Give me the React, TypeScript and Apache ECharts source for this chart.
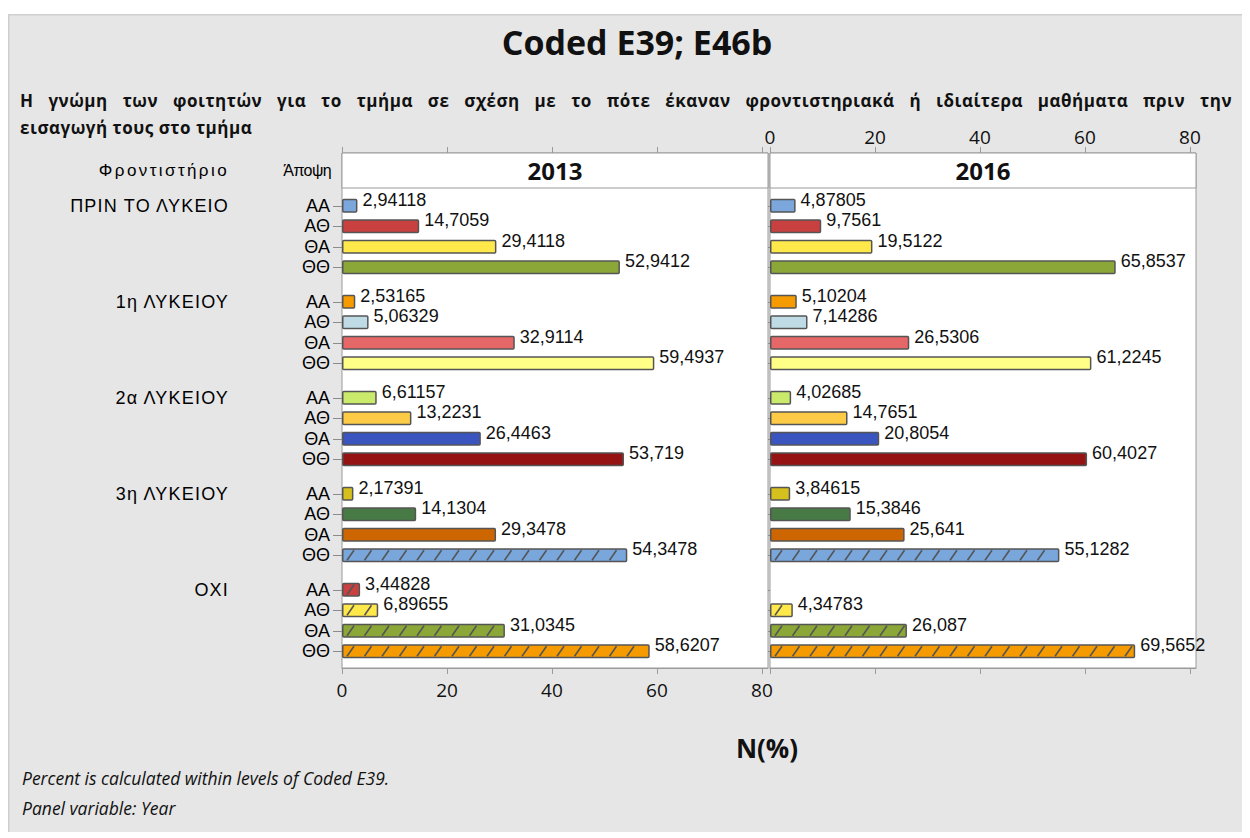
import React, { useEffect, useMemo, useRef } from 'react';
import * as echarts from 'echarts';

const TITLE = 'Coded E39; E46b';
const SUBTITLE_LINES = [
  'Η γνώμη των φοιτητών για το τμήμα σε σχέση με το πότε έκαναν φροντιστηριακά ή ιδιαίτερα μαθήματα πριν την',
  'εισαγωγή τους στο τμήμα',
];
const YEARS = ['2013', '2016'];
const ROW_HEADERS = ['Φροντιστήριο', 'Άποψη'];
const GROUPS = ['ΠΡΙΝ ΤΟ ΛΥΚΕΙΟ', '1η ΛΥΚΕΙΟΥ', '2α ΛΥΚΕΙΟΥ', '3η ΛΥΚΕΙΟΥ', 'ΟΧΙ'];
const OPINIONS = ['ΑΑ', 'ΑΘ', 'ΘΑ', 'ΘΘ'];

const VALUES_2013 = [
  [2.94118, 14.7059, 29.4118, 52.9412],
  [2.53165, 5.06329, 32.9114, 59.4937],
  [6.61157, 13.2231, 26.4463, 53.719],
  [2.17391, 14.1304, 29.3478, 54.3478],
  [3.44828, 6.89655, 31.0345, 58.6207],
];
const VALUES_2016 = [
  [4.87805, 9.7561, 19.5122, 65.8537],
  [5.10204, 7.14286, 26.5306, 61.2245],
  [4.02685, 14.7651, 20.8054, 60.4027],
  [3.84615, 15.3846, 25.641, 55.1282],
  [null, 4.34783, 26.087, 69.5652],
];
const GROUP_COLORS = [
  ['#7ba7dc', '#c94040', '#ffe94a', '#8aa737'],
  ['#f59b00', '#bfdce6', '#e56767', '#ffff88'],
  ['#c9ea6a', '#fdcb45', '#3a55c0', '#951313'],
  ['#d5c01d', '#477a45', '#cd6601', '#79a6db'],
  ['#c94040', '#ffe94a', '#8aa737', '#f59b00'],
];
const HATCHED = [
  [false, false, false, false],
  [false, false, false, false],
  [false, false, false, false],
  [false, false, false, true],
  [true, true, true, true],
];
const X_TICKS = [0, 20, 40, 60, 80];
const X_TITLE = 'N(%)';
const FOOTNOTES = ['Percent is calculated within levels of Coded E39.', 'Panel variable: Year'];

// layout (page coordinates, converted by OX / OY)
const OX = 8;
const OY = 14;
const PANEL_LEFT = [342, 770];
const PANEL_WIDTH = 426;
const FRAME_TOP = 153;
const FRAME_BOTTOM = 668;
const STRIP_H = 35;
const GROUP_TOP0 = 195.5;
const GROUP_STEP = 96;
const GROUP_H = 82;
const X_MAX = 81.15;
const SUB_LINE1_WIDTH = 1212;
const SUB_LETTER_SP = 0.5;

const SEGOE = "'Open Sans', 'Noto Sans', sans-serif";
const ARIAL = "'Liberation Sans', Arial, sans-serif";

const fmt = (v: number) => String(v).replace('.', ',');

function buildOption() {
  const grids: any[] = [];
  const xAxes: any[] = [];
  const yAxes: any[] = [];
  const series: any[] = [];

  for (let p = 0; p < 2; p++) {
    grids.push({
      left: PANEL_LEFT[p] - OX,
      top: FRAME_TOP - OY,
      width: PANEL_WIDTH,
      height: FRAME_BOTTOM - FRAME_TOP,
      show: true,
      backgroundColor: '#ffffff',
      borderColor: '#9a9a9a',
      borderWidth: 1,
    });
    yAxes.push({ type: 'value', gridIndex: p, show: false, min: 0, max: 1 });
  }
  const frameAxes = [
    { grid: 0, pos: 'bottom', labels: true },
    { grid: 0, pos: 'top', labels: false },
    { grid: 1, pos: 'bottom', labels: false },
    { grid: 1, pos: 'top', labels: true },
  ];
  frameAxes.forEach((a) => {
    xAxes.push({
      type: 'value',
      gridIndex: a.grid,
      position: a.pos,
      min: 0,
      max: X_MAX,
      interval: 20,
      axisLine: { show: true, lineStyle: { color: '#9a9a9a', width: 1 } },
      axisTick: { show: true, length: 6, customValues: X_TICKS, lineStyle: { color: '#9a9a9a' } },
      axisLabel: {
        show: a.labels,
        customValues: X_TICKS,
        fontSize: 19,
        fontFamily: SEGOE,
        color: '#111',
        margin: a.pos === 'top' ? 7 : 12,
      },
      splitLine: { show: false },
    });
  });

  for (let p = 0; p < 2; p++) {
    const vals = p === 0 ? VALUES_2013 : VALUES_2016;
    for (let g = 0; g < GROUPS.length; g++) {
      const gi = grids.length;
      grids.push({
        left: PANEL_LEFT[p] - OX,
        top: GROUP_TOP0 + g * GROUP_STEP - OY,
        width: PANEL_WIDTH,
        height: GROUP_H,
      });
      const xi = xAxes.length;
      xAxes.push({ type: 'value', gridIndex: gi, min: 0, max: X_MAX, show: false });
      const yi = yAxes.length;
      yAxes.push({
        type: 'category',
        gridIndex: gi,
        data: OPINIONS,
        inverse: true,
        axisLine: { show: false },
        axisTick: {
          show: true,
          length: p === 0 ? 9 : 2,
          alignWithLabel: true,
          interval: 0,
          lineStyle: { color: '#8c8c8c' },
        },
        axisLabel: {
          show: p === 0,
          interval: 0,
          fontSize: 18,
          fontFamily: ARIAL,
          color: '#000',
          margin: 12,
        },
      });
      const row = vals[g];
      series.push({
        type: 'bar',
        xAxisIndex: xi,
        yAxisIndex: yi,
        barWidth: 14,
        silent: true,
        itemStyle: { borderColor: '#555555', borderWidth: 1.5, borderRadius: 1 },
        label: {
          show: true,
          position: 'right',
          distance: 5,
          offset: [0, -6],
          fontSize: 18,
          lineHeight: 18,
          fontFamily: ARIAL,
          color: '#111',
          formatter: (prm: any) => fmt(prm.value),
        },
        data: row.map((v, i) =>
          v == null ? '-' : { value: v, itemStyle: { color: GROUP_COLORS[g][i] } }
        ),
      });
      const hatchData = row
        .map((v, i) => (HATCHED[g][i] && v != null ? [v, i] : null))
        .filter((d) => d !== null);
      if (hatchData.length) {
        series.push({
          type: 'custom',
          xAxisIndex: xi,
          yAxisIndex: yi,
          silent: true,
          z: 5,
          encode: { x: 0, y: 1 },
          data: hatchData,
          renderItem: (_params: any, api: any) => {
            const v = api.value(0);
            const c = api.value(1);
            const p0 = api.coord([0, c]);
            const p1 = api.coord([v, c]);
            const children: any[] = [];
            for (let x = p0[0] + 5; x + 7 <= p1[0] - 1; x += 17.5) {
              children.push({
                type: 'line',
                shape: { x1: x, y1: p0[1] + 5, x2: x + 7, y2: p0[1] - 5 },
                style: { stroke: '#555555', lineWidth: 1.6 },
              });
            }
            return { type: 'group', children };
          },
        });
      }
    }
  }

  const graphic: any[] = [];
  graphic.push({ type: 'line', shape: { x1: 0.5, y1: 0, x2: 0.5, y2: 830 }, style: { stroke: '#cfcfcf', lineWidth: 2 } });
  graphic.push({ type: 'line', shape: { x1: 0, y1: 0.5, x2: 1242, y2: 0.5 }, style: { stroke: '#cfcfcf', lineWidth: 2 } });
  graphic.push({
    type: 'text',
    x: 637 - OX,
    y: 42 - OY,
    style: { text: TITLE, fontSize: 34, fontWeight: 'bold', fontFamily: SEGOE, fill: '#111', align: 'center', verticalAlign: 'middle' },
  });
  SUBTITLE_LINES.forEach((t, i) => {
    graphic.push({
      type: 'text',
      x: 20 - OX,
      y: 100 + i * 27 - OY,
      style: { text: t, fontSize: i === 0 ? 17.01 : 17.02, fontWeight: 'bold', fontFamily: SEGOE, fill: '#111', align: 'left', verticalAlign: 'middle' },
    });
  });
  graphic.push({
    type: 'text', x: 229 - OX, y: 170 - OY,
    style: { text: ROW_HEADERS[0], fontSize: 17.03, fontFamily: ARIAL, fill: '#000', align: 'right', verticalAlign: 'middle' },
  });
  graphic.push({
    type: 'text', x: 331 - OX, y: 170 - OY,
    style: { text: ROW_HEADERS[1], fontSize: 16.01, fontFamily: ARIAL, fill: '#000', align: 'right', verticalAlign: 'middle' },
  });
  GROUPS.forEach((gname, g) => {
    graphic.push({
      type: 'text',
      x: 229 - OX,
      y: GROUP_TOP0 + g * GROUP_STEP + GROUP_H / 8 - OY,
      style: { text: gname, fontSize: 18.01, fontFamily: ARIAL, fill: '#000', align: 'right', verticalAlign: 'middle' },
    });
  });
  YEARS.forEach((yr, p) => {
    graphic.push({
      type: 'rect',
      z: 10,
      shape: { x: PANEL_LEFT[p] - OX, y: FRAME_TOP - OY, width: PANEL_WIDTH, height: STRIP_H },
      style: { fill: '#ffffff', stroke: '#9a9a9a', lineWidth: 1 },
    });
    graphic.push({
      type: 'text',
      z: 11,
      x: PANEL_LEFT[p] + PANEL_WIDTH / 2 - OX,
      y: FRAME_TOP + STRIP_H / 2 - OY,
      style: { text: yr, fontSize: 24, fontWeight: 'bold', fontFamily: SEGOE, fill: '#111', align: 'center', verticalAlign: 'middle' },
    });
  });
  graphic.push({
    type: 'text', x: 767 - OX, y: 748 - OY,
    style: { text: X_TITLE, fontSize: 26, fontWeight: 'bold', fontFamily: SEGOE, fill: '#111', align: 'center', verticalAlign: 'middle' },
  });
  FOOTNOTES.forEach((t, i) => {
    graphic.push({
      type: 'text', x: 22 - OX, y: 778 + i * 30 - OY,
      style: { text: t, fontSize: 17.5, fontStyle: 'italic', fontFamily: SEGOE, fill: '#111', align: 'left', verticalAlign: 'middle' },
    });
  });

  return {
    animation: false,
    backgroundColor: '#e6e6e6',
    grid: grids,
    xAxis: xAxes,
    yAxis: yAxes,
    series,
    graphic: { elements: graphic },
  };
}

function buildCss() {
  let wordSp = 4;
  try {
    const ctx = document.createElement('canvas').getContext('2d');
    if (ctx) {
      ctx.font = "bold 17px 'Open Sans'";
      const line = SUBTITLE_LINES[0];
      const w = ctx.measureText(line).width + SUB_LETTER_SP * line.length;
      const nSp = (line.match(/ /g) || []).length;
      wordSp = Math.max(0, (SUB_LINE1_WIDTH - w) / nSp);
    }
  } catch (e) {
    // ignore
  }
  return [
    `#root svg text[style*="17.01px"]{letter-spacing:${SUB_LETTER_SP}px;word-spacing:${wordSp.toFixed(2)}px;}`,
    `#root svg text[style*="17.02px"]{letter-spacing:${SUB_LETTER_SP}px;}`,
    `#root svg text[style*="17.03px"]{letter-spacing:2.4px;}`,
    `#root svg text[style*="16.01px"]{letter-spacing:-0.6px;}`,
    `#root svg text[style*="18.01px"]{letter-spacing:1.2px;}`,
  ].join('\n');
}

export default function App() {
  const ref = useRef<HTMLDivElement>(null);
  const css = useMemo(() => buildCss(), []);
  useEffect(() => {
    if (!ref.current) return;
    const chart = echarts.init(ref.current, undefined, { renderer: 'svg' });
    chart.setOption(buildOption() as any);
    return () => chart.dispose();
  }, []);
  return (
    <>
      <style>{css}</style>
      <div ref={ref} style={{ width: 1242, height: 824, position: 'relative', top: 6 }} />
    </>
  );
}
